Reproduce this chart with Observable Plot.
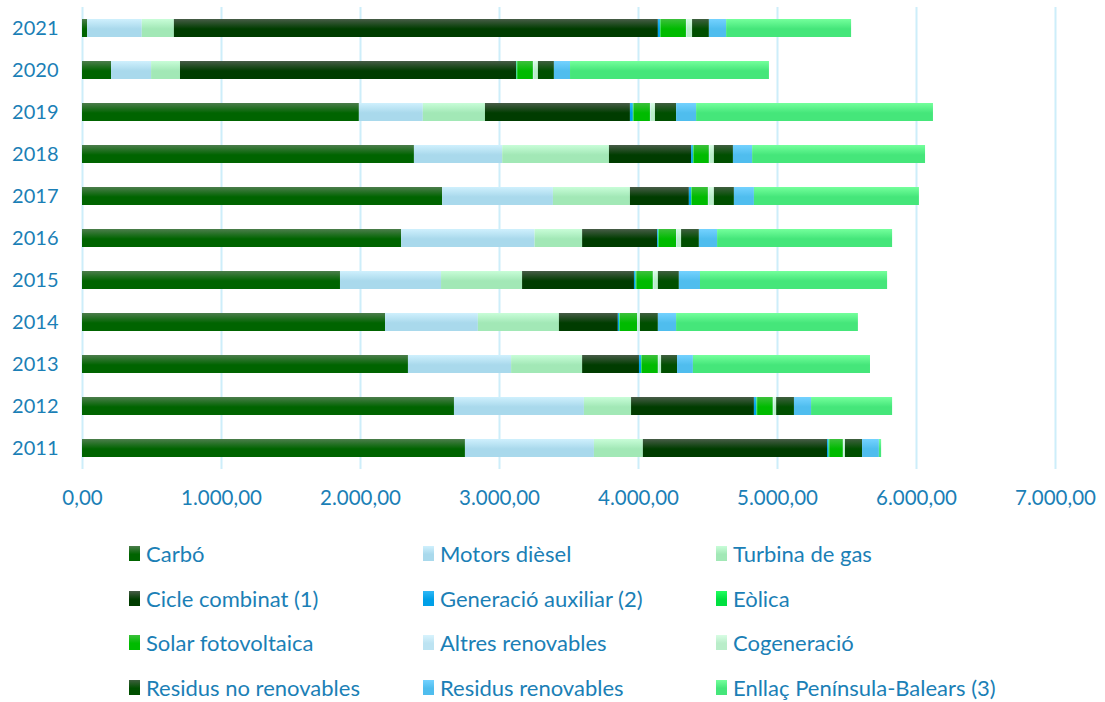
<!DOCTYPE html>
<html><head><meta charset="utf-8">
<script src="https://cdn.jsdelivr.net/npm/d3@7"></script>
<script src="https://cdn.jsdelivr.net/npm/@observablehq/plot@0.6"></script>
<style>
body{margin:0;background:#fff;font-family:Lato, "Open Sans", sans-serif;}
#chart{position:relative;width:1105px;height:702px;overflow:hidden;}
#chart svg{display:block;}
.item{position:absolute;display:flex;align-items:center;height:28px;font-size:22px;color:#1b7fb6;white-space:nowrap;}
.sw{width:11px;height:15px;margin-right:6px;flex:none;}
</style></head>
<body><div id="chart"></div>
<script>
const years = ["2011","2012","2013","2014","2015","2016","2017","2018","2019","2020","2021"];
const seriesNames = ["Carbó","Motors dièsel","Turbina de gas","Cicle combinat (1)","Generació auxiliar (2)","Eòlica","Solar fotovoltaica","Altres renovables","Cogeneració","Residus no renovables","Residus renovables","Enllaç Península-Balears (3)"];
const carbo    = [2755,2676,2345,2180,1856,2296,2591,2388,1992,209,37];
const motors   = [928,935,742,668,727,960,797,635,460,288,393];
const turbina  = [352,339,511,583,583,342,554,768,447,208,231];
const cicle    = [1325,884,409,424,805,540,424,591,1043,2418,3482];
const genAux   = [11,18,15,10,12,7,16,13,21,3,15];
const eolica   = [5,5,5,5,5,5,5,5,5,5,5];
const solar    = [98,113,116,124,119,124,116,110,118,113,182];
const altres   = [5,5,5,5,5,5,5,5,5,5,5];
const cogen    = [10,19,18,15,31,31,38,31,31,31,39];
const resNoRen = [123,128,115,129,151,128,144,137,152,115,121];
const resRen   = [121,123,114,131,152,131,144,138,144,116,124];
const enllac   = [16,583,1274,1308,1346,1259,1187,1244,1704,1431,899];
const xTicks = [0,1000,2000,3000,4000,5000,6000,7000];

const seriesValues = [carbo,motors,turbina,cicle,genAux,eolica,solar,altres,cogen,resNoRen,resRen,enllac];
// gradient colours [top, bottom]
const grads = [
  ["#4c7d4c","#006400"],
  ["#cff0fd","#a9d9ec"],
  ["#c8fdd8","#a2e8b6"],
  ["#475c47","#003c00"],
  ["#30b8f6","#00a0e8"],
  ["#20ff60","#00e040"],
  ["#3cc03c","#00bb00"],
  ["#d8f3fd","#bce3f2"],
  ["#d8fde4","#b9edc9"],
  ["#3f5f3f","#004f00"],
  ["#74d2ff","#4fbdee"],
  ["#74ff9c","#45e67a"]
];

const rows = [];
years.forEach((y, i) => {
  seriesNames.forEach((s, k) => {
    rows.push({year: y, series: s, value: seriesValues[k][i], fill: `url(#g${k})`});
  });
});

const loc = d3.formatLocale({decimal: ",", thousands: ".", grouping: [3], currency: ["", ""]});
const fmt = loc.format(",.2f");
const txt = "#1b7fb6";

const plot = Plot.plot({
  width: 1105,
  height: 520,
  marginLeft: 82,
  marginRight: 50,
  marginTop: 7,
  marginBottom: 51,
  style: {fontFamily: "Lato, 'Open Sans', sans-serif", fontSize: "20px", color: txt, background: "#fff"},
  x: {domain: [0, 7000]},
  y: {domain: years.slice().reverse(), padding: 0, round: false},
  color: {type: "identity"},
  marks: [
    Plot.gridX(xTicks, {stroke: "#cdeefa", strokeOpacity: 1, strokeWidth: 2}),
    Plot.barX(rows, Plot.stackX({x: "value", y: "year", fill: "fill", insetTop: 12, insetBottom: 12})),
    Plot.axisY({tickSize: 0, tickPadding: 24, fontSize: 20, fill: txt, label: null}),
    Plot.axisX({ticks: xTicks, tickFormat: fmt, tickSize: 0, tickPadding: 21, fontSize: 20.5, fill: txt, label: null})
  ]
});

const svg = d3.select(plot);
const defs = svg.insert("defs", ":first-child");
grads.forEach((g, k) => {
  const lg = defs.append("linearGradient").attr("id", `g${k}`).attr("x1", 0).attr("y1", 0).attr("x2", 0).attr("y2", 1);
  lg.append("stop").attr("offset", "0%").attr("stop-color", g[0]);
  lg.append("stop").attr("offset", "55%").attr("stop-color", g[1]);
  lg.append("stop").attr("offset", "100%").attr("stop-color", g[1]);
});

const chart = document.getElementById("chart");
chart.appendChild(plot);

const colX = [129, 423, 716];
const rowY = [553, 598, 642, 687];
seriesNames.forEach((s, k) => {
  const it = document.createElement("div");
  it.className = "item";
  it.style.left = colX[k % 3] + "px";
  it.style.top = (rowY[Math.floor(k / 3)] - 14) + "px";
  const sw = document.createElement("span");
  sw.className = "sw";
  sw.style.background = `linear-gradient(${grads[k][0]}, ${grads[k][1]} 55%, ${grads[k][1]})`;
  const t = document.createElement("span");
  t.textContent = s;
  it.appendChild(sw); it.appendChild(t);
  chart.appendChild(it);
});
</script>
</body></html>
